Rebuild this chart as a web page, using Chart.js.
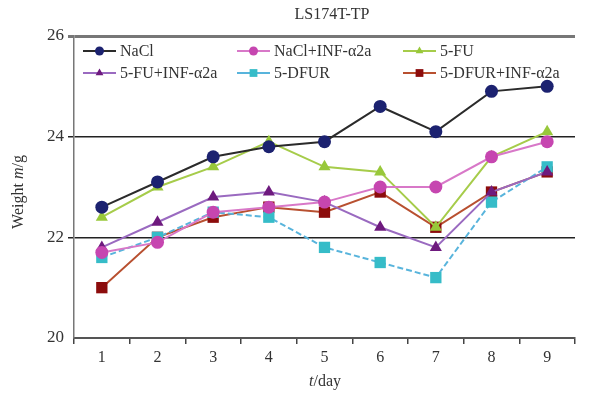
<!DOCTYPE html>
<html>
<head>
<meta charset="utf-8">
<script src="https://cdn.jsdelivr.net/npm/chart.js@4/dist/chart.umd.min.js"></script>
<style>
  html, body { margin: 0; padding: 0; background: #fff; }
  #wrap { width: 597px; height: 393px; }
</style>
</head>
<body>
<div id="wrap"><canvas id="chart" width="597" height="393"></canvas></div>
<script>
// Data
const days = ['1', '2', '3', '4', '5', '6', '7', '8', '9'];
const yTicks = [20, 22, 24, 26];

const nacl        = [22.6, 23.1, 23.6, 23.8, 23.9, 24.6, 24.1, 24.9, 25.0];
const naclInf     = [21.7, 21.9, 22.5, 22.6, 22.7, 23.0, 23.0, 23.6, 23.9];
const fu          = [22.4, 23.0, 23.4, 23.9, 23.4, 23.3, 22.2, 23.6, 24.1];
const fuInf       = [21.8, 22.3, 22.8, 22.9, 22.7, 22.2, 21.8, 22.9, 23.3];
const dfur        = [21.6, 22.0, 22.5, 22.4, 21.8, 21.5, 21.2, 22.7, 23.4];
const dfurInf     = [21.0, 22.0, 22.4, 22.6, 22.5, 22.9, 22.2, 22.9, 23.3];

const SERIF = '"Liberation Serif", "DejaVu Serif", serif';

function series(label, data, lineColor, markColor, shape, radius, dash) {
    return {
        label: label,
        data: data,
        borderColor: lineColor,
        backgroundColor: markColor,
        pointBackgroundColor: markColor,
        pointBorderColor: markColor,
        pointStyle: shape,
        pointRadius: radius,
        pointBorderWidth: 0,
        borderWidth: 2,
        borderDash: dash || [],
        tension: 0
    };
}

const datasets = [
    series('NaCl', nacl, '#2b2b2b', '#1c2270', 'circle', 6.5),
    series('NaCl+INF-\u03b12a', naclInf, '#d878c8', '#c646b0', 'circle', 6.5),
    series('5-FU', fu, '#a6cc4a', '#98c83a', 'triangle', 7),
    series('5-FU+INF-\u03b12a', fuInf, '#9a6ac0', '#6e1a7e', 'triangle', 7),
    series('5-DFUR', dfur, '#58b4dc', '#36bcc8', 'rect', 8, [6, 3]),
    series('5-DFUR+INF-\u03b12a', dfurInf, '#b85030', '#8c0c0c', 'rect', 8)
];

// legend slots inside the plot: [lineStartX, y]
const legendSlots = [[83, 51], [237, 51], [403, 51], [83, 73], [237, 73], [403, 73]];

const decorPlugin = {
    id: 'decor',
    afterDraw(chart) {
        const ctx = chart.ctx;
        ctx.save();
        // title
        ctx.fillStyle = '#333';
        ctx.font = '16px ' + SERIF;
        ctx.textAlign = 'center';
        ctx.textBaseline = 'middle';
        ctx.fillText('LS174T-TP', 332, 15);

        // x title with italic t
        ctx.textAlign = 'left';
        ctx.font = 'italic 16px ' + SERIF;
        const tW = ctx.measureText('t').width;
        ctx.font = '16px ' + SERIF;
        const restW = ctx.measureText('/day').width;
        let x0 = 325 - (tW + restW) / 2;
        ctx.font = 'italic 16px ' + SERIF;
        ctx.fillText('t', x0, 382);
        ctx.font = '16px ' + SERIF;
        ctx.fillText('/day', x0 + tW, 382);

        // y title with italic m
        ctx.translate(19, 192);
        ctx.rotate(-Math.PI / 2);
        const parts = [['Weight ', '16px '], ['m', 'italic 16px '], ['/g', '16px ']];
        let total = 0;
        parts.forEach(p => { ctx.font = p[1] + SERIF; total += ctx.measureText(p[0]).width; });
        let px = -total / 2;
        parts.forEach(p => {
            ctx.font = p[1] + SERIF;
            ctx.fillText(p[0], px, 0);
            px += ctx.measureText(p[0]).width;
        });
        ctx.restore();

        // legend
        ctx.save();
        chart.data.datasets.forEach((ds, i) => {
            const [lx, ly] = legendSlots[i];
            ctx.strokeStyle = ds.borderColor;
            ctx.lineWidth = 1.8;
            ctx.setLineDash([]);
            ctx.beginPath();
            ctx.moveTo(lx, ly);
            ctx.lineTo(lx + 33, ly);
            ctx.stroke();
            ctx.fillStyle = ds.pointBackgroundColor;
            Chart.helpers.drawPoint(ctx, {
                pointStyle: ds.pointStyle,
                radius: ds.pointStyle === 'rect' ? 5.5 : 4.5,
                borderWidth: 0,
                rotation: 0
            }, lx + 16.5, ly);
            ctx.fillStyle = '#333';
            ctx.font = '16px ' + SERIF;
            ctx.textAlign = 'left';
            ctx.textBaseline = 'middle';
            ctx.fillText(ds.label, lx + 37, ly + 1);
        });
        ctx.restore();
    }
};

new Chart(document.getElementById('chart'), {
    type: 'line',
    data: { labels: days, datasets: datasets },
    options: {
        responsive: false,
        animation: false,
        layout: { padding: { top: 36, right: 22, left: 0, bottom: 0 } },
        plugins: {
            legend: { display: false },
            title: { display: false },
            tooltip: { enabled: false }
        },
        scales: {
            x: {
                type: 'category',
                offset: true,
                afterFit: s => { s.height = 55; },
                grid: {
                    offset: true,
                    drawOnChartArea: false,
                    drawTicks: true,
                    tickLength: 6,
                    color: '#444',
                    lineWidth: 1.5
                },
                border: { color: '#555', width: 2 },
                ticks: {
                    color: '#333',
                    font: { family: SERIF, size: 16 },
                    padding: 4
                }
            },
            y: {
                min: 20,
                max: 26,
                afterFit: s => { s.width = 74; },
                afterBuildTicks: s => { s.ticks = yTicks.map(v => ({ value: v })); },
                grid: {
                    drawTicks: true,
                    tickLength: 6,
                    color: ctx => ctx.tick && ctx.tick.value === 26 ? '#777' : (ctx.tick && ctx.tick.value === 20 ? 'rgba(0,0,0,0)' : '#222'),
                    lineWidth: ctx => ctx.tick && ctx.tick.value === 26 ? 3 : 1.5
                },
                border: { color: '#777', width: 1.5 },
                ticks: {
                    color: '#333',
                    font: { family: SERIF, size: 17 },
                    padding: 4
                }
            }
        }
    },
    plugins: [decorPlugin]
});
</script>
</body>
</html>
